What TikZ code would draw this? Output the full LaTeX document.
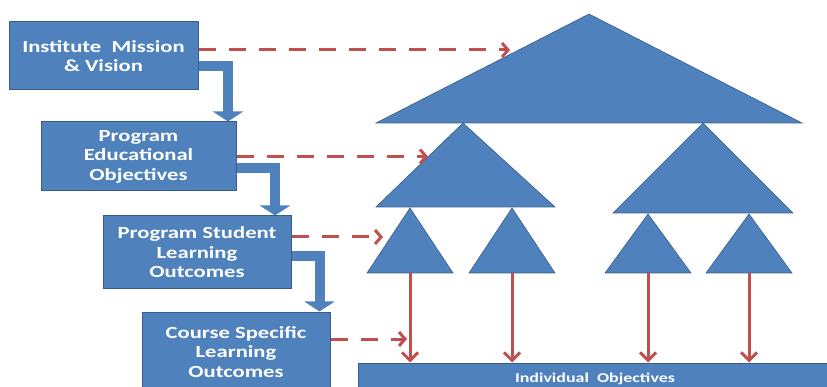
\documentclass[tikz,border=0pt]{standalone}
\usepackage{fontspec}
\newfontfamily\boxfont{Carlito}[FakeStretch=1.33]
\usetikzlibrary{arrows.meta,calc}

\definecolor{boxblue}{HTML}{4F81BD}
\definecolor{edgeblue}{HTML}{385D8A}
\definecolor{linkred}{HTML}{C0504D}

\tikzset{
  levelbox/.style={draw=edgeblue, fill=boxblue, line width=1pt, text=white,
    align=center, inner sep=0pt,
    font=\boxfont\bfseries\fontsize{17}{19.5}\selectfont},
  tribox/.style={draw=edgeblue, fill=boxblue, line width=0.6pt},
  flowarrow/.style={draw=boxblue, line width=10pt,
    -{Triangle[length=10pt,width=30pt]}},
  maplink/.style={linkred, line width=3pt, dash pattern=on 17pt off 13pt,
    -{Straight Barb[length=6pt,width=14pt]}},
  droplink/.style={linkred, line width=3pt,
    -{Straight Barb[length=8pt,width=16pt]}}
}

\begin{document}
\begin{tikzpicture}[x=1pt,y=-1pt]
    \useasboundingbox (0,0) rectangle (827,387);
    \clip (0,0) rectangle (827,387);

    %% hierarchy of triangles
    \filldraw[tribox] (589,14) -- (376,123) -- (802,123) -- cycle;
    \filldraw[tribox] (463,123) -- (376,207) -- (555,207) -- cycle;
    \filldraw[tribox] (703,123) -- (613,213) -- (793,213) -- cycle;
    \foreach \x/\y/\n in {410/208/a, 512/208/b, 648/214/c, 749/214/d} {
        \filldraw[tribox] (\x,\y) -- (\x-43,273) -- (\x+43,273) -- cycle;
        \coordinate (leaf\n) at (\x,273);
    }

    % where the dashed links end
    \coordinate (hitgoal) at (510,50);
    \coordinate (hitpeo)  at (428,156.5);
    \coordinate (hitpslo) at (383,237);
    \coordinate (hitcslo) at (407,339);

    %% flow arrows (under the boxes)
    \node[levelbox, minimum width=189pt, minimum height=68pt] (mission) at (103.5,56) {};
    \node[levelbox, minimum width=195pt, minimum height=69pt] (peo) at (138.5,156.5) {};
    \node[levelbox, minimum width=188pt, minimum height=73pt] (pslo) at (197,252.5) {};
    \node[levelbox, minimum width=188pt, minimum height=80pt] (cslo) at (236,352) {};

    \draw[flowarrow] ([yshift=-10pt]mission.east) -| ($(peo.north east)+(-8.5,0)$);
    \draw[flowarrow] ([yshift=-11.5pt]peo.east) -| ($(pslo.north east)+(-16.5,0)$);
    \draw[flowarrow] ([yshift=-3.5pt]pslo.east) -| ($(cslo.north east)+(-11,0)$);

    %% boxes
    \node[levelbox, minimum width=189pt, minimum height=68pt] at (mission) {Institute\ \ Mission\\\& Vision};
    \node[levelbox, minimum width=195pt, minimum height=69pt] at (peo) {Program\\Educational\\Objectives};
    \node[levelbox, minimum width=188pt, minimum height=73pt] at (pslo) {Program Student\\Learning\\Outcomes};
    \node[levelbox, minimum width=188pt, minimum height=80pt] at (cslo) {Course Specific\\Learning\\Outcomes};

    \node[levelbox, minimum width=474pt, minimum height=32pt,
          font=\boxfont\bfseries\fontsize{13.5}{16}\selectfont] (indiv) at (595,379) {Individual\ \ Objectives};

    %% dashed links
    \draw[maplink] ([yshift=6pt]mission.east) -- (hitgoal);
    \draw[maplink] (peo.east) -- (hitpeo);
    \draw[maplink] ([yshift=15.5pt]pslo.east) -- (hitpslo);
    \draw[maplink] ([yshift=13pt]cslo.east) -- (hitcslo);

    %% down to individual objectives
    \foreach \n in {a,b,c,d}
        \draw[droplink] (leaf\n) -- (leaf\n |- indiv.north);

\end{tikzpicture}
\end{document}
